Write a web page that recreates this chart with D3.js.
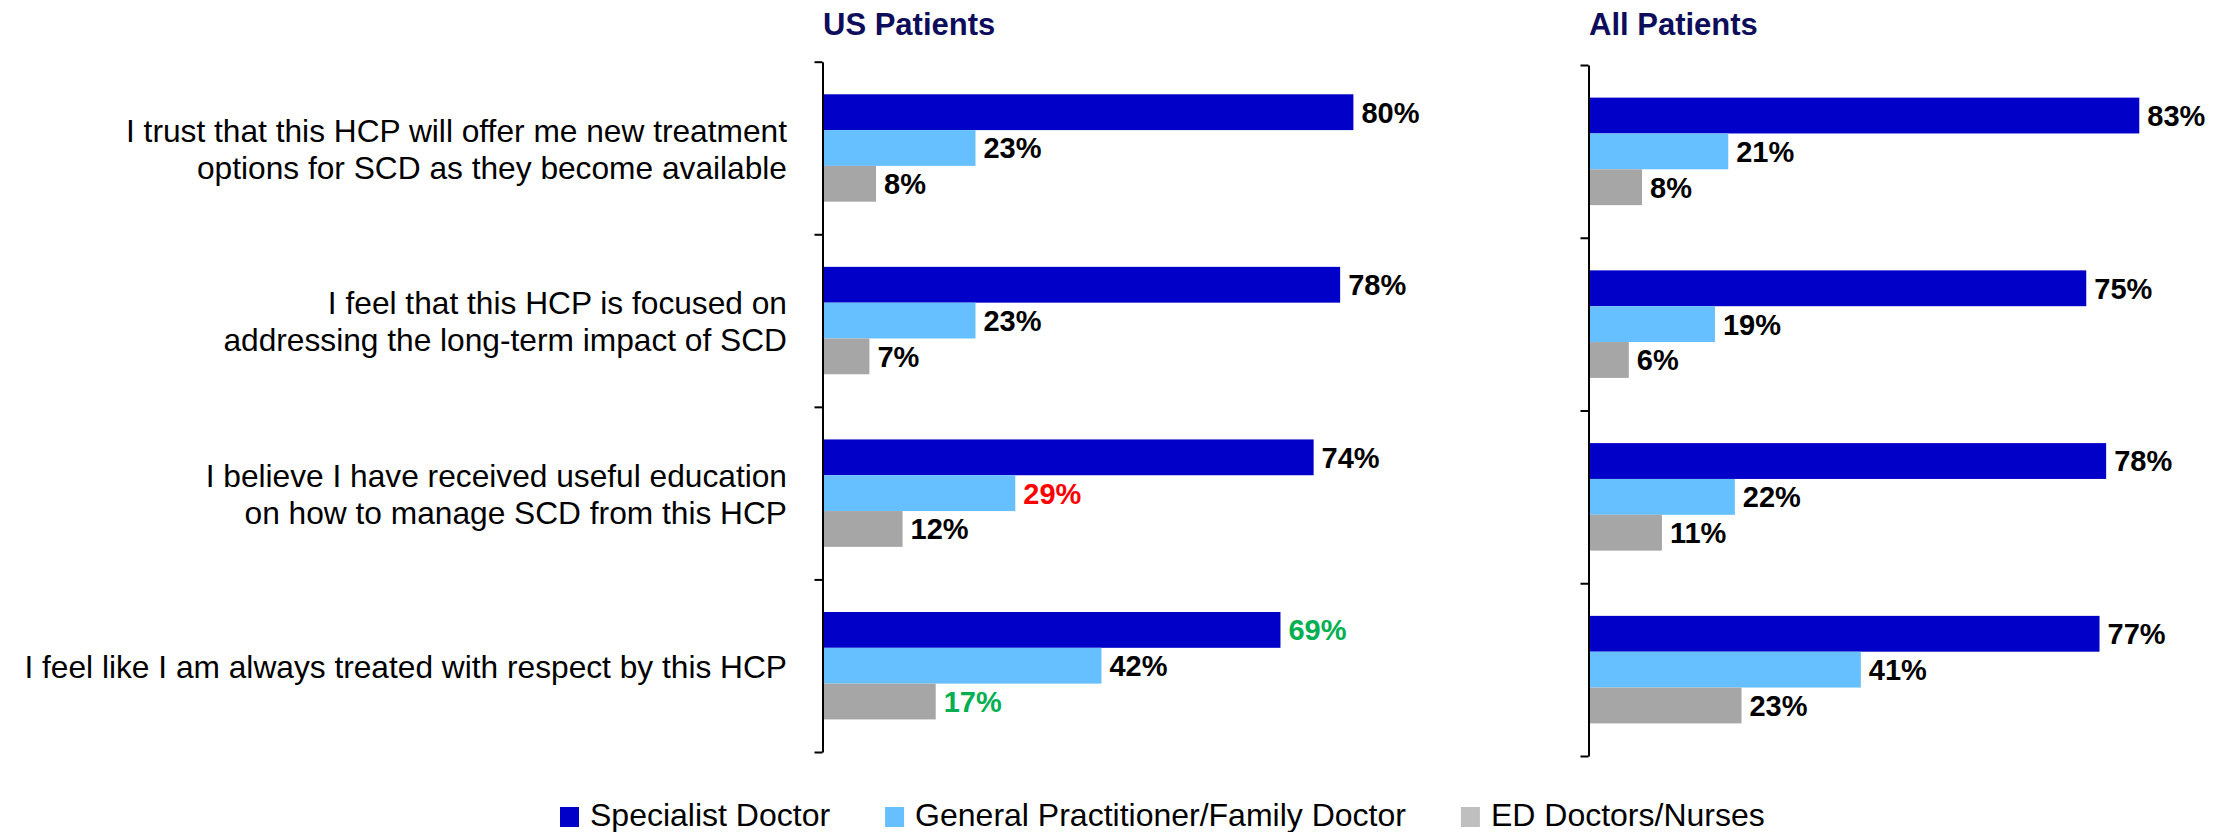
<!DOCTYPE html>
<html>
<head>
<meta charset="utf-8">
<script src="https://cdn.jsdelivr.net/npm/d3@7"></script>
<style>
  html, body { margin: 0; padding: 0; background: #ffffff; }
  svg { display: block; }
  text { font-family: "Liberation Sans", Arial, Helvetica, sans-serif; }
</style>
</head>
<body>
<svg id="chart" width="2222" height="832"></svg>
<script>
// ---------------- DATA ----------------
const categories = [
  ["I trust that this HCP will offer me new treatment", "options for SCD as they become available"],
  ["I feel that this HCP is focused on", "addressing the long-term impact of SCD"],
  ["I believe I have received useful education", "on how to manage SCD from this HCP"],
  ["I feel like I am always treated with respect by this HCP"]
];
const seriesNames = ["Specialist Doctor", "General Practitioner/Family Doctor", "ED Doctors/Nurses"];
const panelTitles = ["US Patients", "All Patients"];

const usSpecialist  = [80, 78, 74, 69];
const usGP          = [23, 23, 29, 42];
const usED          = [8, 7, 12, 17];

const allSpecialist = [83, 75, 78, 77];
const allGP         = [21, 19, 22, 41];
const allED         = [8, 6, 11, 23];

// highlighted value labels: [panel, series index, category index, tone]
const highlights = [
  [0, 1, 2, "lower"],
  [0, 0, 3, "higher"],
  [0, 2, 3, "higher"]
];

// ---------------- STYLE / LAYOUT ----------------
const colors = ["#0000C8", "#66BFFF", "#A6A6A6"];
const legendColors = ["#0000C8", "#66BFFF", "#BFBFBF"];
const toneColors = { lower: "#FF0000", higher: "#00B050" };
const titleColor = "#0D0D5C";

const panels = [
  { x0: 823,  top: 61.7, bottom: 752, data: [usSpecialist, usGP, usED], labels: true },
  { x0: 1589, top: 65,   bottom: 756, data: [allSpecialist, allGP, allED], labels: false }
];

const svg = d3.select("#chart");
const x = d3.scaleLinear().domain([0, 100]).range([0, 663]);
const catIdx = d3.range(categories.length);
const serIdx = d3.range(seriesNames.length);

panels.forEach((p, pi) => {
  const g = svg.append("g");
  const y = d3.scaleBand().domain(catIdx).range([p.top, p.bottom]).paddingInner(0).paddingOuter(0);
  const ySub = d3.scaleBand().domain(serIdx).range([0, y.bandwidth()]).paddingInner(0).paddingOuter(0.91);

  // title
  g.append("text")
    .attr("x", p.x0).attr("y", 35)
    .attr("font-size", 31).attr("font-weight", "bold")
    .attr("fill", titleColor)
    .text(panelTitles[pi]);

  // bars
  catIdx.forEach(ci => {
    serIdx.forEach(si => {
      const v = p.data[si][ci];
      const yy = y(ci) + ySub(si);
      g.append("rect")
        .attr("x", p.x0)
        .attr("y", yy)
        .attr("width", x(v))
        .attr("height", ySub.bandwidth())
        .attr("fill", colors[si]);
      const hl = highlights.find(h => h[0] === pi && h[1] === si && h[2] === ci);
      g.append("text")
        .attr("x", p.x0 + x(v) + 8)
        .attr("y", yy + ySub.bandwidth() / 2)
        .attr("dy", "0.36em")
        .attr("font-size", 29).attr("font-weight", "bold")
        .attr("fill", hl ? toneColors[hl[3]] : "#000000")
        .text(v + "%");
    });
  });

  // axis with ticks at category boundaries
  const yb = d3.scaleLinear().domain([0, categories.length]).range([p.top, p.bottom]);
  const axis = d3.axisLeft(yb)
    .tickValues(d3.range(categories.length + 1))
    .tickSize(8).tickSizeOuter(0).tickFormat("");
  const ag = g.append("g").attr("transform", `translate(${p.x0 - 0.5},0)`).call(axis);
  ag.select(".domain").attr("stroke", "#000").attr("stroke-width", 2);
  ag.selectAll(".tick line").attr("stroke", "#000").attr("stroke-width", 2);

  // category labels
  if (p.labels) {
    catIdx.forEach(ci => {
      const lines = categories[ci];
      const cy = y(ci) + y.bandwidth() / 2 + 1;
      const lh = 37;
      lines.forEach((ln, li) => {
        const ly = cy + (li - (lines.length - 1) / 2) * lh;
        g.append("text")
          .attr("x", 787).attr("y", ly)
          .attr("dy", "0.35em")
          .attr("text-anchor", "end")
          .attr("font-size", 31.7)
          .attr("fill", "#000")
          .text(ln);
      });
    });
  }
});

// legend
const lg = svg.append("g");
let lx = 560;
seriesNames.forEach((name, i) => {
  lg.append("rect")
    .attr("x", lx).attr("y", 807).attr("width", 19).attr("height", 20)
    .attr("fill", legendColors[i]);
  const t = lg.append("text")
    .attr("x", lx + 30).attr("y", 826)
    .attr("font-size", 32).attr("fill", "#000")
    .text(name);
  lx = lx + 30 + t.node().getComputedTextLength() + 55;
});
</script>
</body>
</html>
